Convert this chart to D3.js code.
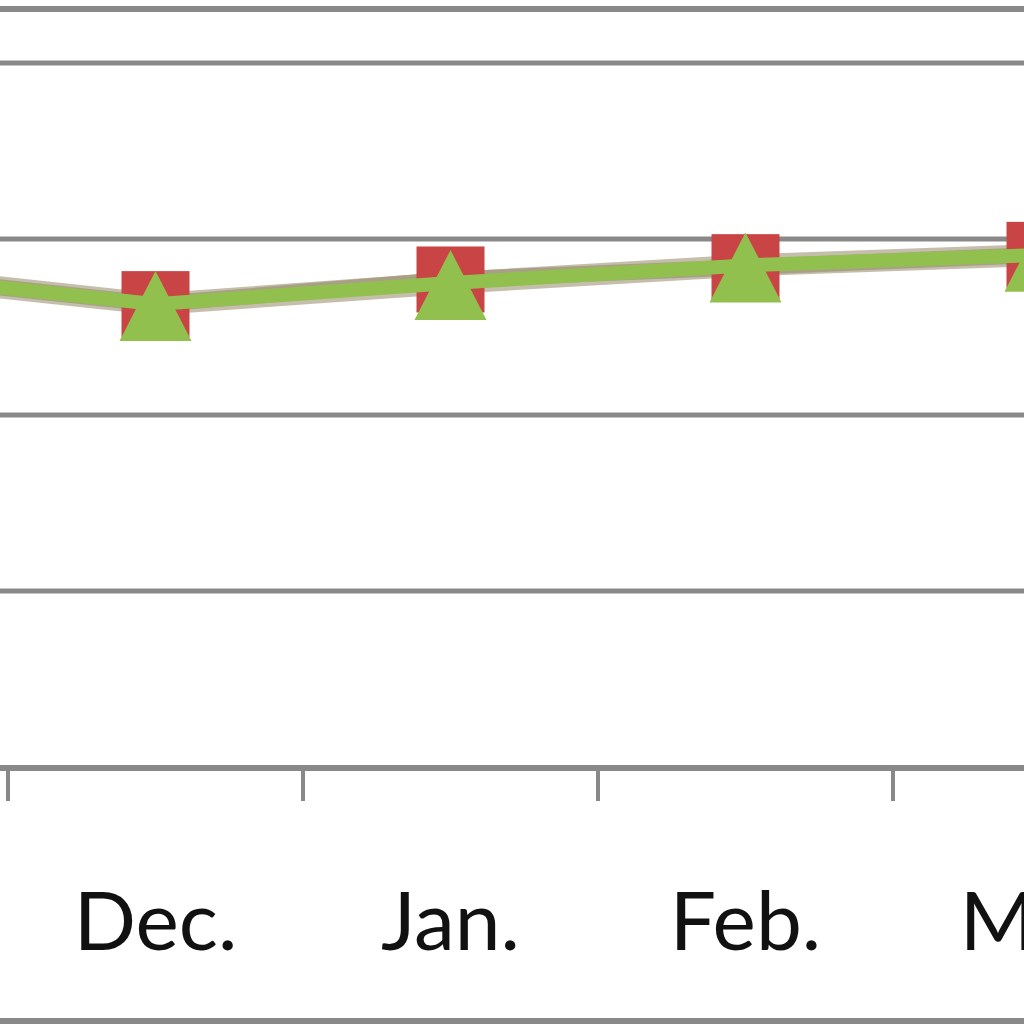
<!DOCTYPE html>
<html>
<head>
<meta charset="utf-8">
<script src="https://cdn.jsdelivr.net/npm/d3@7"></script>
<style>
  html, body { margin: 0; padding: 0; background: #ffffff; }
  svg { display: block; }
</style>
</head>
<body>
<svg id="chart" width="1024" height="1024"></svg>
<script>
// ---- data ----
const categories = ["Nov.", "Dec.", "Jan.", "Feb.", "Mar."];
const seriesRed = [2.81, 2.63, 2.77, 2.84, 2.91];
const seriesGreen = [2.81, 2.63, 2.75, 2.85, 2.91];
const yTicks = [0, 1, 2, 3, 4];

// ---- layout ----
const svg = d3.select("#chart");
const W = 1024, H = 1024;
const axisY = 768;

const x = d3.scaleBand().domain(categories).range([-287, 1188]).paddingInner(0).paddingOuter(0);
const y = d3.scaleLinear().domain([0, 4]).range([767, 63]);
const cx = d => x(d) + x.bandwidth() / 2;

// outer chart border (top and bottom visible)
svg.append("line").attr("x1", 0).attr("x2", W).attr("y1", 9).attr("y2", 9)
  .attr("stroke", "#898989").attr("stroke-width", 6);
svg.append("line").attr("x1", 0).attr("x2", W).attr("y1", 1021).attr("y2", 1021)
  .attr("stroke", "#898989").attr("stroke-width", 6);

// gridlines
svg.append("g").selectAll("line").data(yTicks.filter(t => t > 0)).join("line")
  .attr("x1", 0).attr("x2", W)
  .attr("y1", d => y(d)).attr("y2", d => y(d))
  .attr("stroke", "#898989").attr("stroke-width", 5);

// x axis
const gx = svg.append("g").attr("transform", `translate(0,${axisY})`);
gx.append("line").attr("x1", 0).attr("x2", W).attr("y1", 0).attr("y2", 0)
  .attr("stroke", "#898989").attr("stroke-width", 6);
// tick marks at category boundaries
gx.append("g").selectAll("line").data(categories).join("line")
  .attr("x1", d => x(d)).attr("x2", d => x(d))
  .attr("y1", 0).attr("y2", 33)
  .attr("stroke", "#898989").attr("stroke-width", 4);
// labels (only those whose position lies on the visible canvas)
gx.append("g").selectAll("text").data(categories.filter(d => cx(d) > 0)).join("text")
  .attr("x", d => cx(d)).attr("y", 182)
  .attr("text-anchor", "middle")
  .attr("font-family", "Lato, 'Open Sans', sans-serif")
  .attr("font-size", 82)
  .attr("fill", "#111")
  .text(d => d);

// lines
const line = d3.line().x((d, i) => cx(categories[i])).y(d => y(d));

// shadow
svg.append("path").datum(seriesGreen).attr("d", line)
  .attr("fill", "none").attr("stroke", "#b7ae98").attr("stroke-width", 22)
  .attr("stroke-linejoin", "round").attr("opacity", 0.8);
// red line
svg.append("path").datum(seriesRed).attr("d", line)
  .attr("fill", "none").attr("stroke", "#a89f86").attr("stroke-width", 16)
  .attr("stroke-linejoin", "round");
// red square markers
svg.append("g").selectAll("rect").data(seriesRed).join("rect")
  .attr("x", (d, i) => cx(categories[i]) - 34)
  .attr("y", d => y(d) - 33)
  .attr("width", 68).attr("height", 66)
  .attr("fill", "#c94444");
// green line
svg.append("path").datum(seriesGreen).attr("d", line)
  .attr("fill", "none").attr("stroke", "#92c04e").attr("stroke-width", 14)
  .attr("stroke-linejoin", "round");
// green triangle markers
const tri = "M0,-33L36,37L-36,37Z";
svg.append("g").selectAll("path").data(seriesGreen).join("path")
  .attr("transform", (d, i) => `translate(${cx(categories[i])},${y(d)})`)
  .attr("d", tri)
  .attr("fill", "#92c04e");
</script>
</body>
</html>
